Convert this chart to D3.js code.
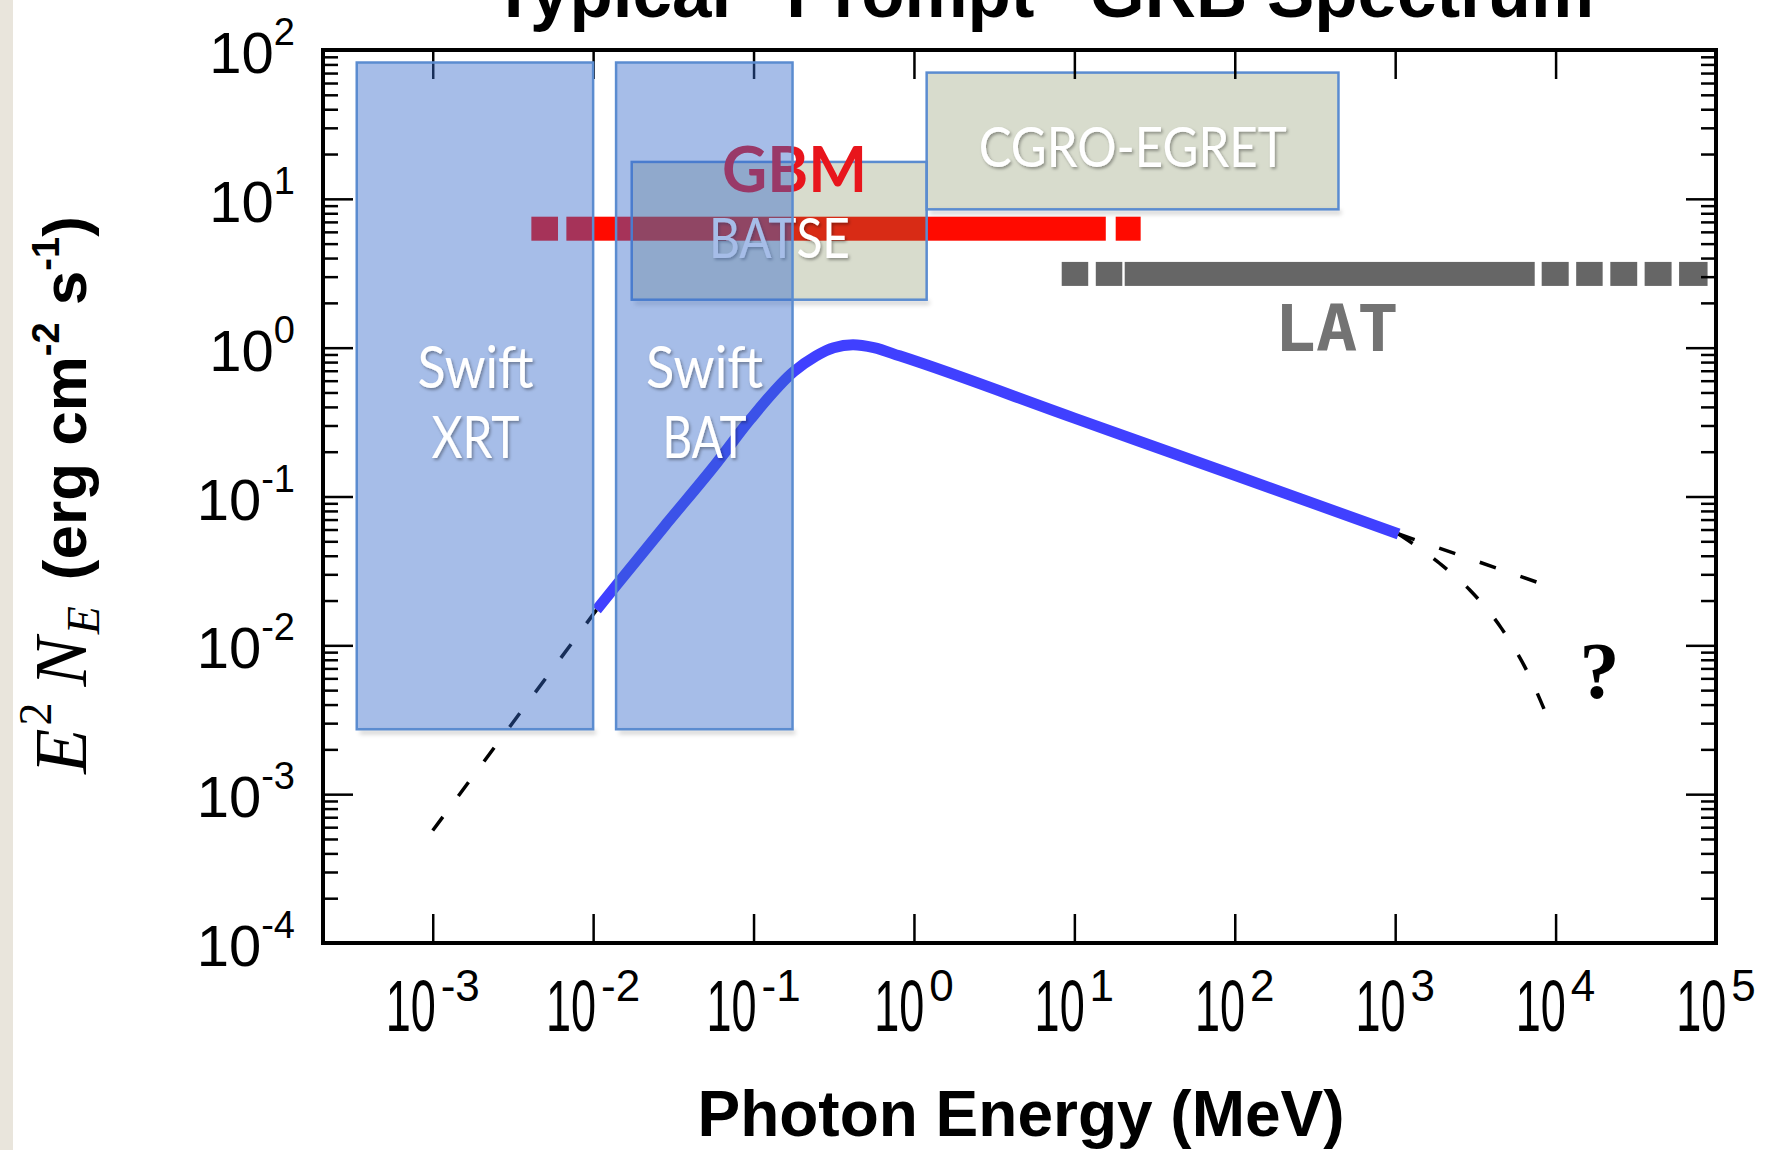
<!DOCTYPE html>
<html>
<head>
<meta charset="utf-8">
<script src="https://cdn.jsdelivr.net/npm/d3@7"></script>
<style>
  html, body { margin: 0; padding: 0; background: #fff; }
  svg { display: block; }
  .axes path.domain { display: none; }
  .axes line { stroke: #000; stroke-width: 2.5; }
</style>
</head>
<body>
<div id="chart"></div>
<script>
// values (energy in MeV, flux in erg cm^-2 s^-1)
const xTicks = [1e-3, 1e-2, 1e-1, 1e0, 1e1, 1e2, 1e3, 1e4, 1e5];
const xTickExp = ["-3", "-2", "-1", "0", "1", "2", "3", "4", "5"];
const yTicks = [1e-4, 1e-3, 1e-2, 1e-1, 1e0, 1e1, 1e2];
const yTickExp = ["-4", "-3", "-2", "-1", "0", "1", "2"];

// instrument boxes: [Emin, Emax] and [Fmin, Fmax]
const boxNames = ["BATSE", "CGRO-EGRET", "Swift XRT", "Swift BAT"];
const boxEnergy = [[0.0174, 1.20], [1.20, 443], [3.36e-4, 0.0100], [0.0139, 0.175]];
const boxFlux = [[2.10, 17.7], [8.5, 70.5], [0.00273, 82.4], [0.00273, 82.4]];

// GBM and LAT ranges drawn as broken bars
const gbmSegments = [[0.00412, 0.00604], [0.00681, 15.7], [18.1, 25.9]];
const gbmFlux = 6.3;
const latSegments = [[8.34, 12.2], [13.6, 19.9], [20.6, 7410], [8190, 12070],
  [13440, 19650], [21940, 32270], [35900, 52850], [58870, 88600]];
const latFlux = 3.13;

// the spectrum itself
const spectrum = [[0.0105, 0.0173], [0.0141, 0.0257], [0.0288, 0.0660], [0.0589, 0.168],
  [0.0955, 0.33], [0.178, 0.69], [0.245, 0.88], [0.316, 1.0], [0.417, 1.045],
  [0.562, 1.0], [0.813, 0.881], [10, 0.336], [100, 0.139], [1050, 0.056]];
const lowExtrap = [[0.001, 5.7e-4], [0.0105, 0.0173]];
const highExtrap = [[1050, 0.056], [7700, 0.0265]];
const cutoffExtrap = [[1050, 0.056], [1890, 0.0356], [2910, 0.0236], [4600, 0.0130],
  [6580, 0.00683], [9400, 0.00285]];

const W = 1773, H = 1150;
const margin = {top: 50, right: 57, bottom: 207, left: 323};

const svg = d3.select("#chart").append("svg")
  .attr("width", W).attr("height", H)
  .style("font-family", "'Liberation Sans', Arial, sans-serif");

const x = d3.scaleLog().domain([2.07e-4, 1e5]).range([margin.left, W - margin.right]);
const y = d3.scaleLog().domain([1e-4, 1e2]).range([H - margin.bottom, margin.top]);

const defs = svg.append("defs");
defs.append("filter").attr("id", "blur")
  .attr("x", "-20%").attr("y", "-200%").attr("width", "140%").attr("height", "500%")
  .append("feGaussianBlur").attr("stdDeviation", 2);
defs.append("filter").attr("id", "txtShadow")
  .attr("x", "-10%").attr("y", "-20%").attr("width", "130%").attr("height", "150%")
  .append("feDropShadow").attr("dx", 1.5).attr("dy", 2).attr("stdDeviation", 1.5)
  .attr("flood-color", "#000").attr("flood-opacity", 0.35);

// slide edge on the left
svg.append("rect").attr("x", 0).attr("y", 0).attr("width", 13).attr("height", H).attr("fill", "#e9e5dc");

const barH = 24;
const bar = (d) => d.attr("x", s => x(s[0])).attr("width", s => x(s[1]) - x(s[0])).attr("height", barH);

// GBM bar sits under the boxes
svg.append("g").selectAll("rect").data(gbmSegments).join("rect")
  .call(bar).attr("y", y(gbmFlux) - barH / 2).attr("fill", "#ff0a00");

function boxes(idx, fill, opacity) {
  const g = svg.append("g");
  // soft shadow strip under the bottom edge only
  g.selectAll("rect.shadow").data(idx).join("rect").attr("class", "shadow")
    .attr("x", i => x(boxEnergy[i][0]) + 3)
    .attr("y", i => y(boxFlux[i][0]) + 1)
    .attr("width", i => x(boxEnergy[i][1]) - x(boxEnergy[i][0]))
    .attr("height", 4)
    .attr("fill", "#000").attr("fill-opacity", 0.18).attr("filter", "url(#blur)");
  g.selectAll("rect.box").data(idx).join("rect").attr("class", "box")
    .attr("x", i => x(boxEnergy[i][0]))
    .attr("y", i => y(boxFlux[i][1]))
    .attr("width", i => x(boxEnergy[i][1]) - x(boxEnergy[i][0]))
    .attr("height", i => y(boxFlux[i][0]) - y(boxFlux[i][1]))
    .attr("fill", fill).attr("fill-opacity", opacity)
    .attr("stroke", "#5b8cd0").attr("stroke-width", 2.5);
}

boxes([0, 1], "#74824a", 0.28);

function label(txt, e, f, opts) {
  const t = svg.append("text")
    .attr("x", x(e)).attr("y", y(f))
    .attr("text-anchor", "middle")
    .attr("font-family", opts.family || "Lato, 'Open Sans', sans-serif")
    .attr("font-size", opts.size)
    .attr("font-weight", opts.weight || "normal")
    .attr("fill", opts.fill || "#fff")
    .text(txt);
  if (opts.len) t.attr("textLength", opts.len).attr("lengthAdjust", "spacingAndGlyphs");
  if (opts.shadow) t.attr("filter", "url(#txtShadow)");
  return t;
}

label("GBM", 0.180, 11.1, {size: 63, weight: "bold", fill: "#e8151c", len: 145});
label("BATSE", 0.145, 3.99, {size: 56, len: 141, shadow: true});
label(boxNames[1], 23.1, 16.3, {size: 57, len: 308, shadow: true});

// LAT bar and label
svg.append("g").selectAll("rect").data(latSegments).join("rect")
  .call(bar).attr("y", y(latFlux) - barH / 2).attr("fill", "#666666");
label("LAT", 431, 0.955, {size: 64, weight: "bold", fill: "#737373", len: 124,
  family: "'DejaVu Sans Mono', monospace"});

// spectrum
const line = d3.line().x(d => x(d[0])).y(d => y(d[1])).curve(d3.curveMonotoneX);
svg.append("path").datum(spectrum).attr("d", line)
  .attr("fill", "none").attr("stroke", "#4040ff").attr("stroke-width", 11)
  .attr("stroke-linejoin", "round");
svg.append("g").selectAll("path").data([lowExtrap, highExtrap, cutoffExtrap]).join("path")
  .attr("d", line).attr("fill", "none").attr("stroke", "#000")
  .attr("stroke-width", 3.5).attr("stroke-dasharray", "17,26");

// axes ticks (inside the frame)
const majorX = xTicks.filter(t => t < 1e5);
const minorY = [];
yTicks.slice(0, -1).forEach(t => { for (let m = 2; m <= 9; m++) minorY.push(t * m); });

const axes = svg.append("g").attr("class", "axes");
axes.append("g").attr("transform", `translate(0,${y.range()[0]})`)
  .call(d3.axisBottom(x).tickValues(majorX).tickSize(-29).tickFormat(""));
axes.append("g").attr("transform", `translate(0,${y.range()[1]})`)
  .call(d3.axisTop(x).tickValues(majorX).tickSize(-29).tickFormat(""));
axes.append("g").attr("transform", `translate(${x.range()[0]},0)`)
  .call(d3.axisLeft(y).tickValues(yTicks).tickSize(-30).tickFormat(""));
axes.append("g").attr("transform", `translate(${x.range()[0]},0)`)
  .call(d3.axisLeft(y).tickValues(minorY).tickSize(-15).tickFormat(""));
axes.append("g").attr("transform", `translate(${x.range()[1]},0)`)
  .call(d3.axisRight(y).tickValues(yTicks).tickSize(-30).tickFormat(""));
axes.append("g").attr("transform", `translate(${x.range()[1]},0)`)
  .call(d3.axisRight(y).tickValues(minorY).tickSize(-15).tickFormat(""));

// Swift boxes on top, semi transparent
boxes([2, 3], "#3569cb", 0.44);
label("Swift", 0.00185, 0.535, {size: 59, len: 116, shadow: true});
label("XRT", 0.00185, 0.181, {size: 59, len: 88, shadow: true});
label("Swift", 0.0495, 0.535, {size: 59, len: 117, shadow: true});
label("BAT", 0.0495, 0.181, {size: 59, len: 84, shadow: true});

label("?", 18800, 0.00443, {size: 80, weight: "bold", fill: "#000",
  family: "'Liberation Serif', 'DejaVu Serif', serif"});

// frame
svg.append("rect")
  .attr("x", x.range()[0]).attr("y", y.range()[1])
  .attr("width", x.range()[1] - x.range()[0]).attr("height", y.range()[0] - y.range()[1])
  .attr("fill", "none").attr("stroke", "#000").attr("stroke-width", 4);

// x tick labels: "10" is drawn narrow, exponent normal
const xLab = svg.append("g");
xTicks.forEach((t, i) => {
  const g = xLab.append("g").attr("transform", `translate(${x(t)},1031)`);
  const sup = g.append("text").attr("font-size", 44).attr("y", -30).text(xTickExp[i]);
  const ws = sup.node().getComputedTextLength();
  const start = -(50 + 5 + ws) / 2;
  g.append("g").attr("transform", `translate(${start},0) scale(0.625,1)`)
    .append("text").attr("font-size", 72).text("10");
  sup.attr("x", start + 55);
});

// y tick labels
yTicks.forEach((t, i) => {
  const tx = svg.append("text").attr("x", 295).attr("y", y(t) + 23)
    .attr("text-anchor", "end").attr("font-size", 58);
  tx.append("tspan").text("10");
  tx.append("tspan").attr("font-size", 38).attr("dy", -28).text(yTickExp[i]);
});

// axis titles
svg.append("text").attr("x", 1021).attr("y", 1136).attr("text-anchor", "middle")
  .attr("font-size", 64).attr("font-weight", "bold").text("Photon Energy (MeV)");

const yt = svg.append("text").attr("transform", "translate(86,495) rotate(-90)")
  .attr("text-anchor", "middle");
const serif = "'Liberation Serif', 'DejaVu Serif', serif";
yt.append("tspan").attr("font-family", serif).attr("font-style", "italic").attr("font-size", 74).text("E");
yt.append("tspan").attr("font-family", serif).attr("font-size", 46)
  .attr("dx", 3).attr("dy", -35).text("2");
yt.append("tspan").attr("font-family", serif).attr("font-style", "italic").attr("font-size", 74)
  .attr("dy", 35).attr("dx", 16).text("N");
yt.append("tspan").attr("font-family", serif).attr("font-style", "italic").attr("font-size", 46)
  .attr("dx", 3).attr("dy", 13).text("E");
yt.append("tspan").attr("font-size", 62).attr("font-weight", "bold").attr("dy", -13).attr("dx", 26).text("(erg cm");
yt.append("tspan").attr("font-size", 38).attr("font-weight", "bold").attr("dy", -27).text("-2");
yt.append("tspan").attr("font-size", 62).attr("font-weight", "bold").attr("dy", 27).text(" s");
yt.append("tspan").attr("font-size", 38).attr("font-weight", "bold").attr("dy", -27).text("-1");
yt.append("tspan").attr("font-size", 62).attr("font-weight", "bold").attr("dy", 27).text(")");

// title, mostly cut off at the top edge
svg.append("text").attr("x", 1043).attr("y", 17).attr("text-anchor", "middle")
  .attr("font-size", 72).attr("font-weight", "bold")
  .attr("textLength", 1102).attr("lengthAdjust", "spacingAndGlyphs")
  .text("Typical \u201CPrompt\u201D GRB Spectrum");
</script>
</body>
</html>
